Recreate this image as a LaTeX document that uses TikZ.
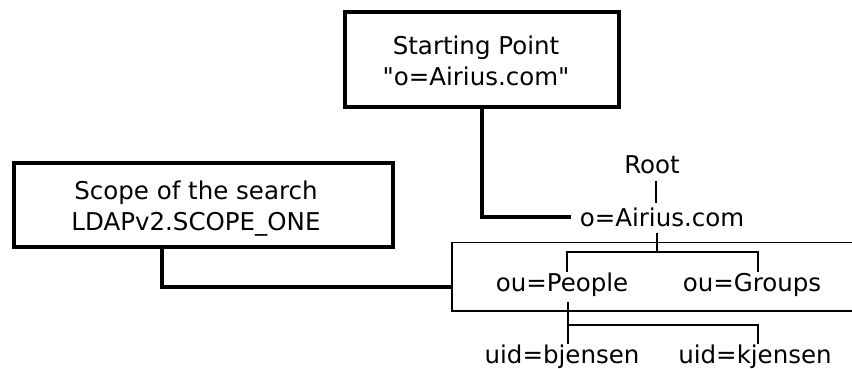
\documentclass[tikz,border=0pt]{standalone}
\usepackage{fontspec}
\setmainfont{DejaVu Sans}
\begin{document}
\begin{tikzpicture}[x=1pt,y=-1pt,
  every node/.style={font=\fontsize{24.5}{31}\selectfont, inner sep=0pt},
  bigbox/.style={draw, line width=4pt, align=center},
  heavy/.style={line width=4pt},
  tree/.style={line width=1.4pt},
  lbl/.style={anchor=center}]
\useasboundingbox (0,0) rectangle (852,369);
% boxes
\node[bigbox, minimum width=274pt, minimum height=95pt] (start) at (482,59.5) {};
\node[lbl, align=center] (starttxt) at (476,61) {Starting Point\\\textquotedbl o=Airius.com\textquotedbl};
\node[bigbox, minimum width=379pt, minimum height=84pt] (scope) at (203.5,205) {};
\node[lbl, align=center] (scopetxt) at (196,209) {Scope of the search\\LDAPv2.SCOPE\_ONE};
% tree labels
\node[lbl] (root) at (652,165) {Root};
\node[lbl] (airius) at (662,217) {o=Airius.com};
\node[lbl] (people) at (562,285) {ou=People};
\node[lbl] (groups) at (752,285) {ou=Groups};
\node[lbl] (bjensen) at (562,357) {uid=bjensen};
\node[lbl] (kjensen) at (755,357) {uid=kjensen};
% scope region
\coordinate (regL) at (452,286.5);
\draw[tree] (852,242.5) -- (452,242.5) -- (452,311) -- (852,311);
% heavy connectors
\draw[heavy] (start.south) |- ([xshift=-9pt]airius.west);
\draw[heavy] ([xshift=-41.5pt]scope.south) |- (regL);
% tree lines
\coordinate (r1) at (656,181);
\coordinate (r2) at (656,203);
\draw[tree] (r1) -- (r2);
\coordinate (a1) at (657,233);
\coordinate (j1) at (657,252);
\coordinate (pd) at (567,272);
\coordinate (gd) at (758,272);
\draw[tree] (a1) -- (j1);
\draw[tree] (pd) |- (j1) -| (gd);
\coordinate (pb) at (568,302);
\coordinate (j2) at (568,325);
\coordinate (bd) at (568,344);
\coordinate (kd) at (758,344);
\draw[tree] (pb) -- (bd);
\draw[tree] (j2) -| (kd);
\end{tikzpicture}
\end{document}
